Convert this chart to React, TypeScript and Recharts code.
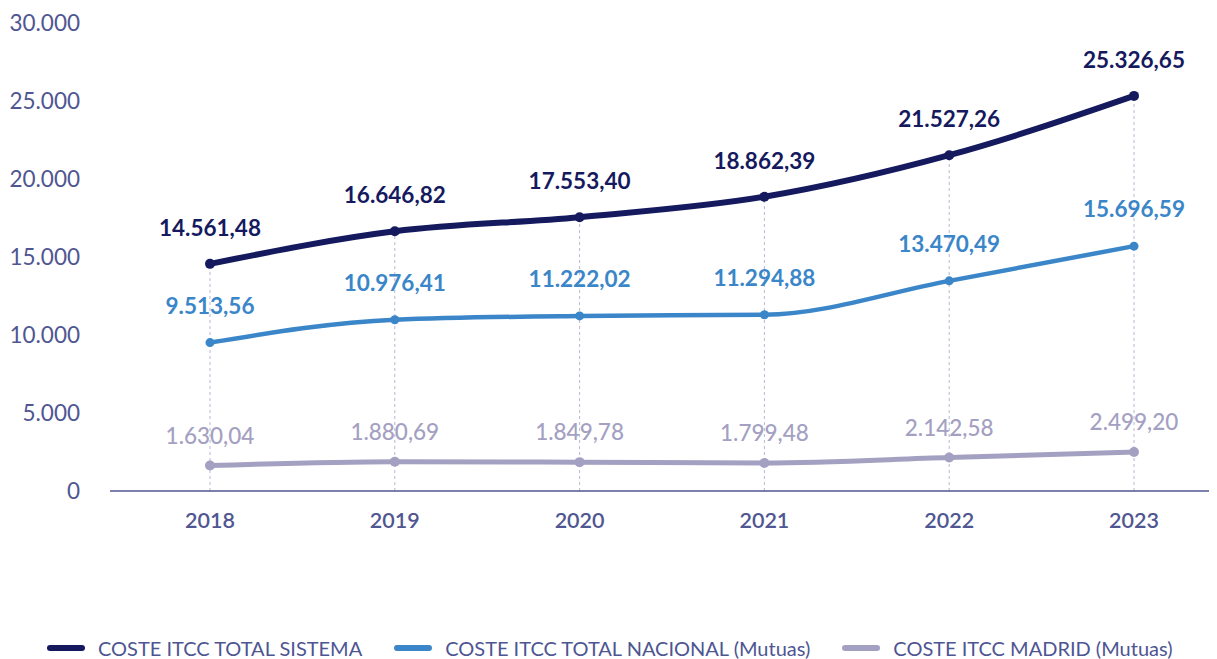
import React from 'react';
import { LineChart, Line, XAxis, YAxis, LabelList, ReferenceLine } from 'recharts';

const years = ['2018', '2019', '2020', '2021', '2022', '2023'];
const totalSistema = [14561.48, 16646.82, 17553.4, 18862.39, 21527.26, 25326.65];
const totalNacional = [9513.56, 10976.41, 11222.02, 11294.88, 13470.49, 15696.59];
const madrid = [1630.04, 1880.69, 1849.78, 1799.48, 2142.58, 2499.2];
const yTicks = [0, 5000, 10000, 15000, 20000, 25000, 30000];

const seriesNames = ['COSTE ITCC TOTAL SISTEMA', 'COSTE ITCC TOTAL NACIONAL (Mutuas)', 'COSTE ITCC MADRID (Mutuas)'];

const NAVY = '#151a5e';
const BLUE = '#3a86c8';
const GREY = '#a3a0c2';
const AXIS = '#4f5692';
const FONT = 'Lato, "Noto Sans", sans-serif';

const data = years.map((year, i) => ({
  year,
  sistema: totalSistema[i],
  nacional: totalNacional[i],
  madrid: madrid[i],
}));

// 12345.6 -> "12.345,60", 30000 -> "30.000"
function fmt(v: number, decimals: number) {
  const [int, dec] = v.toFixed(decimals).split('.');
  const grouped = int.replace(/\B(?=(\d{3})+(?!\d))/g, '.');
  return dec ? `${grouped},${dec}` : grouped;
}

const makeLabel = (color: string, weight: number, dy: number) => (props: any) => {
  const { x, y, value } = props;
  return (
    <text x={x} y={y + dy} textAnchor="middle" fill={color} fontSize={22.5} fontWeight={weight} fontFamily={FONT}>
      {fmt(value, 2)}
    </text>
  );
};

export default function App() {
  return (
    <div style={{ position: 'relative', marginTop: -8, marginLeft: -8, width: 1217, height: 659, background: '#fff', fontFamily: FONT }}>
      <LineChart width={1217} height={659} data={data} margin={{ top: 23, right: 0, bottom: 108, left: 8 }}>
        <XAxis
          dataKey="year"
          padding={{ left: 100, right: 83 }}
          axisLine={{ stroke: AXIS, strokeWidth: 1.5 }}
          tickLine={false}
          tickSize={0}
          tickMargin={22}
          height={60}
          tick={{ fill: AXIS, fontSize: 21.5, fontWeight: 600, fontFamily: FONT }}
        />
        <YAxis
          domain={[0, 30000]}
          ticks={yTicks}
          width={102}
          axisLine={false}
          tickLine={false}
          tickSize={0}
          tickMargin={30}
          tickFormatter={(v: number) => fmt(v, 0)}
          tick={{ fill: AXIS, fontSize: 22.5, fontFamily: FONT }}
        />
        {years.map((y, i) => (
          <ReferenceLine
            key={y}
            segment={[{ x: y, y: 0 }, { x: y, y: totalSistema[i] }]}
            stroke="#b9b6d2"
            strokeDasharray="3 3"
            strokeWidth={1}
          />
        ))}
        <Line
          type="monotone"
          dataKey="madrid"
          name={seriesNames[2]}
          stroke={GREY}
          strokeWidth={5}
          dot={{ r: 5, fill: GREY, stroke: GREY, strokeWidth: 0 }}
          isAnimationActive={false}
        >
          <LabelList dataKey="madrid" content={makeLabel(GREY, 500, -22)} />
        </Line>
        <Line
          type="monotone"
          dataKey="nacional"
          name={seriesNames[1]}
          stroke={BLUE}
          strokeWidth={4.5}
          dot={{ r: 4.5, fill: BLUE, stroke: BLUE, strokeWidth: 0 }}
          isAnimationActive={false}
        >
          <LabelList dataKey="nacional" content={makeLabel(BLUE, 700, -29)} />
        </Line>
        <Line
          type="monotone"
          dataKey="sistema"
          name={seriesNames[0]}
          stroke={NAVY}
          strokeWidth={6}
          dot={{ r: 5, fill: NAVY, stroke: NAVY, strokeWidth: 0 }}
          isAnimationActive={false}
        >
          <LabelList dataKey="sistema" content={makeLabel(NAVY, 700, -28)} />
        </Line>
      </LineChart>
      <div
        style={{
          position: 'absolute',
          top: 636,
          left: 47,
          display: 'flex',
          alignItems: 'center',
          fontSize: 20,
          lineHeight: '24px',
          color: '#4d5592',
          whiteSpace: 'nowrap',
        }}
      >
        {seriesNames.map((name, i) => (
          <div key={name} style={{ display: 'flex', alignItems: 'center', marginRight: 32 }}>
            <span
              style={{
                display: 'inline-block',
                width: 38,
                height: 6,
                borderRadius: 3,
                background: [NAVY, BLUE, GREY][i],
                marginRight: 13,
              }}
            />
            <span>{name}</span>
          </div>
        ))}
      </div>
    </div>
  );
}
